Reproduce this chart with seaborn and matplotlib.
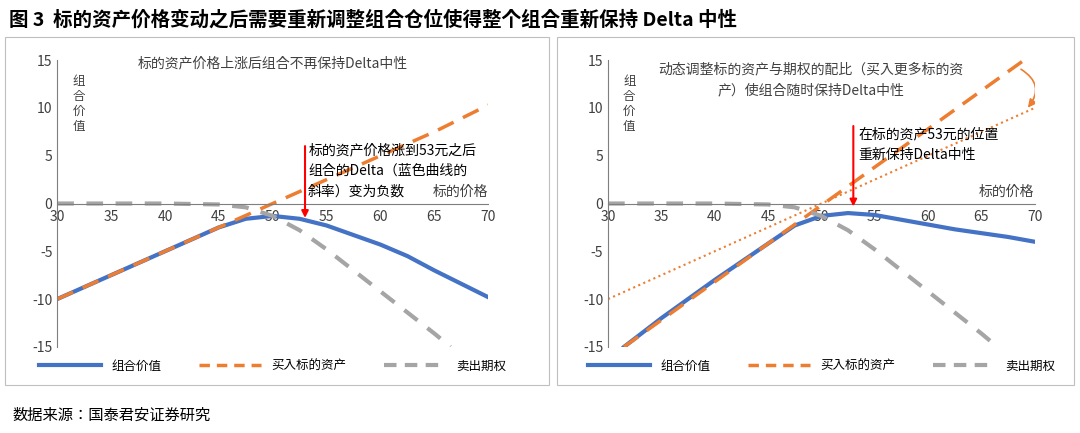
import matplotlib
matplotlib.use("Agg")
import matplotlib.pyplot as plt
from matplotlib import font_manager
import seaborn as sns
from matplotlib.patches import Rectangle, FancyArrowPatch
from matplotlib.lines import Line2D

names = {f.name for f in font_manager.fontManager.ttflist}
cjk = [n for n in ["Noto Sans CJK SC", "Noto Sans CJK JP", "Noto Sans CJK TC", "Noto Sans CJK KR"] if n in names]
plt.rcParams["font.family"] = "sans-serif"
plt.rcParams["font.sans-serif"] = cjk + ["DejaVu Sans"]
plt.rcParams["axes.unicode_minus"] = False

x_left = [30, 35, 40, 45, 47.5, 50, 52.5, 55, 57.5, 60, 62.5, 65, 67.5, 70]
blue_left = [-10, -7.5, -5, -2.5, -1.6, -1.3, -1.6, -2.3, -3.3, -4.3, -5.5, -7, -8.4, -9.8]
orange_left = [-10, -7.5, -5, -2.5, -1.25, 0, 1.25, 2.5, 3.75, 5, 6.25, 7.5, 8.9, 10.3]
grey_x = [30, 35, 40, 45, 47.5, 50, 52.5, 55, 57.5, 60, 62.5, 65, 66.5]
grey_y = [0, 0, 0, -0.1, -0.4, -1.3, -2.8, -4.8, -7.0, -9.2, -11.4, -13.6, -15]
x_right = [31.5, 35, 40, 45, 47.5, 50, 52.5, 55, 57.5, 60, 62.5, 65, 67.5, 70]
blue_right = [-15, -12, -8, -4.2, -2.3, -1.3, -1.0, -1.2, -1.7, -2.2, -2.7, -3.1, -3.5, -4.0]
orange_right_x = [31.5, 69]
orange_right_y = [-15, 15]
dotted_x = [30, 70]
dotted_y = [-10, 10]
xticks = [30, 35, 40, 45, 50, 55, 60, 65, 70]
yticks = [-15, -10, -5, 0, 5, 10, 15]

BLUE = "#4472C4"; ORANGE = "#ED7D31"; GREY = "#A5A5A5"

fig = plt.figure(figsize=(10.8, 4.33), dpi=100)
fig.text(0.008, 0.955, "图 3  标的资产价格变动之后需要重新调整组合仓位使得整个组合重新保持 Delta 中性",
         fontsize=14, fontweight="bold", va="center")
fig.text(0.012, 0.04, "数据来源：国泰君安证券研究", fontsize=11, va="center")
for (x0, w) in [(0.005, 0.503), (0.516, 0.478)]:
    fig.add_artist(Rectangle((x0, 0.11), w, 0.805, transform=fig.transFigure,
                             fill=False, edgecolor="#BFBFBF", lw=0.8))

axL = fig.add_axes([0.053, 0.199, 0.399, 0.662])
axR = fig.add_axes([0.563, 0.199, 0.395, 0.662])

def style(ax):
    ax.set_xlim(30, 70); ax.set_ylim(-15, 15)
    ax.set_xticks(xticks); ax.set_yticks(yticks)
    for s in ["top", "right"]:
        ax.spines[s].set_visible(False)
    ax.spines["bottom"].set_position(("data", 0))
    ax.spines["bottom"].set_color("#7F7F7F")
    ax.spines["left"].set_color("#7F7F7F")
    ax.tick_params(length=0, labelsize=10, colors="#404040")
    ax.tick_params(axis="x", pad=5)
    ax.set_xlabel(""); ax.set_ylabel("")
    ax.text(0.035, 13.5, "组\n合\n价\n值", fontsize=9, color="#404040", va="top",
            transform=ax.get_yaxis_transform())
    ax.text(70, 0.8, "标的价格", fontsize=10, ha="right", color="#404040")

sns.lineplot(x=x_left, y=blue_left, ax=axL, color=BLUE, lw=3)
sns.lineplot(x=x_left, y=orange_left, ax=axL, color=ORANGE, lw=2.5, ls=(0, (5, 3)))
sns.lineplot(x=grey_x, y=grey_y, ax=axL, color=GREY, lw=3, ls=(0, (4, 3)))
style(axL)
axL.text(50, 14.3, "标的资产价格上涨后组合不再保持Delta中性", ha="center", fontsize=10, color="#404040")
axL.annotate("", xy=(53, -1.8), xytext=(53, 6.3),
             arrowprops=dict(arrowstyle="-|>", color="red", lw=1.5))
axL.text(53.3, 6.3, "标的资产价格涨到53元之后\n组合的Delta（蓝色曲线的\n斜率）变为负数",
         fontsize=10, va="top", linespacing=1.6)

sns.lineplot(x=x_right, y=blue_right, ax=axR, color=BLUE, lw=3)
sns.lineplot(x=orange_right_x, y=orange_right_y, ax=axR, color=ORANGE, lw=2.5, ls=(0, (5, 3)))
sns.lineplot(x=dotted_x, y=dotted_y, ax=axR, color=ORANGE, lw=1.5, ls=":")
sns.lineplot(x=grey_x, y=grey_y, ax=axR, color=GREY, lw=3, ls=(0, (4, 3)))
style(axR)
axR.text(49, 14.8, "动态调整标的资产与期权的配比（买入更多标的资\n产）使组合随时保持Delta中性",
         ha="center", va="top", fontsize=10, color="#404040", linespacing=1.7)
axR.annotate("", xy=(53, -0.6), xytext=(53, 8.4),
             arrowprops=dict(arrowstyle="-|>", color="red", lw=1.5))
axR.text(53.5, 8.0, "在标的资产53元的位置\n重新保持Delta中性", fontsize=10, va="top", linespacing=1.6)
axR.add_patch(FancyArrowPatch((68.5, 14.2), (69.2, 9.8), connectionstyle="arc3,rad=-0.6",
                              arrowstyle="-|>", mutation_scale=12, color=ORANGE, lw=1.2))

handles = [Line2D([], [], color=BLUE, lw=3), Line2D([], [], color=ORANGE, lw=2.5, ls=(0, (3, 2))),
           Line2D([], [], color=GREY, lw=3, ls=(0, (3, 2)))]
labels = ["组合价值", "买入标的资产", "卖出期权"]
for ax in (axL, axR):
    ax.legend(handles, labels, loc="upper center", bbox_to_anchor=(0.5, -0.005), ncol=3,
              frameon=False, fontsize=9, handlelength=5, columnspacing=3)

fig.savefig("out.png", dpi=100)
